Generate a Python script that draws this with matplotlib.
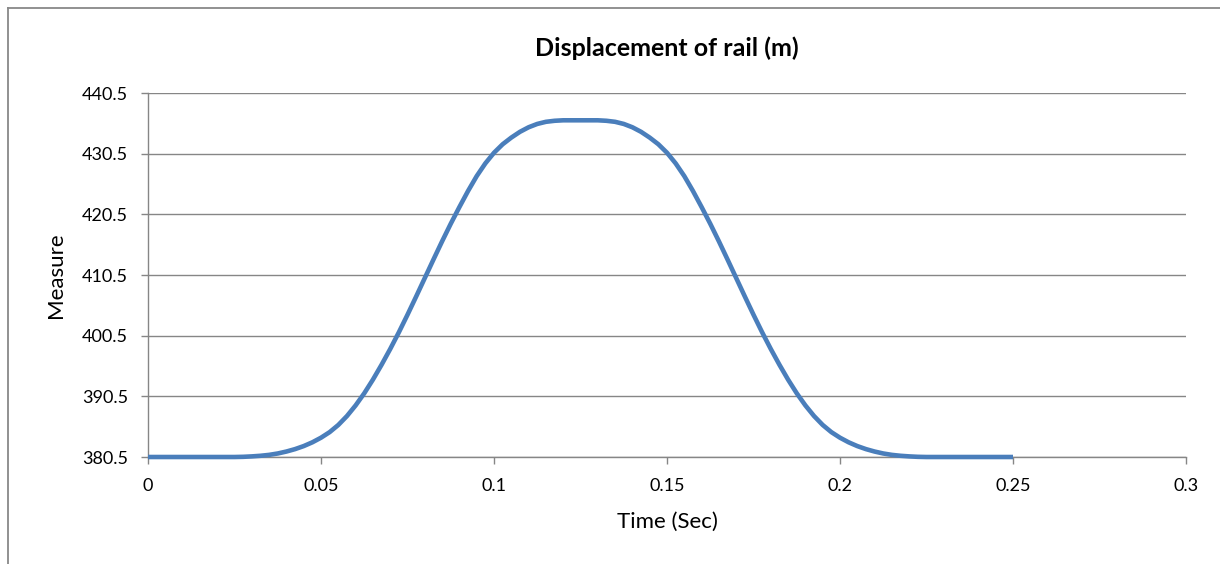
import matplotlib
matplotlib.use("Agg")
import matplotlib.pyplot as plt
from matplotlib.lines import Line2D

plt.rcParams['font.family'] = ['Lato', 'DejaVu Sans']

# time (sec) and rail displacement
time_sec = [0.0, 0.005, 0.01, 0.015, 0.02,
            0.025, 0.0275, 0.03, 0.0325, 0.035, 0.0375, 0.04, 0.0425, 0.045, 0.0475,
            0.05, 0.0525, 0.055, 0.0575, 0.06, 0.0625, 0.065, 0.0675, 0.07, 0.0725,
            0.075, 0.0775, 0.08, 0.0825, 0.085, 0.0875, 0.09, 0.0925, 0.095, 0.0975,
            0.1, 0.1025, 0.105, 0.1075, 0.11, 0.1125, 0.115, 0.1175, 0.12, 0.1225,
            0.125, 0.1275, 0.13, 0.1325, 0.135, 0.1375, 0.14, 0.1425, 0.145, 0.1475,
            0.15, 0.1525, 0.155, 0.1575, 0.16, 0.1625, 0.165, 0.1675, 0.17, 0.1725,
            0.175, 0.1775, 0.18, 0.1825, 0.185, 0.1875, 0.19, 0.1925, 0.195, 0.1975,
            0.2, 0.2025, 0.205, 0.2075, 0.21, 0.2125, 0.215, 0.2175, 0.22, 0.2225,
            0.225, 0.23, 0.235, 0.24, 0.245, 0.25]
displacement = [380.5, 380.5, 380.5, 380.5, 380.5,
                380.5, 380.53, 380.6, 380.7, 380.85, 381.08, 381.4, 381.8, 382.3, 382.92,
                383.68, 384.6, 385.78, 387.25, 389.0, 391.0, 393.25, 395.7, 398.3, 401.05,
                403.95, 406.95, 410.0, 413.05, 416.05, 418.95, 421.7, 424.35, 426.8, 428.9,
                430.65, 432.05, 433.15, 434.1, 434.85, 435.4, 435.75, 435.92, 436.0, 436.0,
                436.0, 436.0, 436.0, 435.92, 435.75, 435.4, 434.85, 434.1, 433.15, 432.05,
                430.65, 428.9, 426.8, 424.35, 421.7, 418.95, 416.05, 413.05, 410.0, 406.95,
                403.95, 401.05, 398.3, 395.7, 393.25, 391.0, 389.0, 387.25, 385.78, 384.6,
                383.68, 382.92, 382.3, 381.8, 381.4, 381.08, 380.85, 380.7, 380.6, 380.53,
                380.5, 380.5, 380.5, 380.5, 380.5, 380.5]

x_ticks = [0, 0.05, 0.1, 0.15, 0.2, 0.25, 0.3]
x_tick_labels = ['0', '0.05', '0.1', '0.15', '0.2', '0.25', '0.3']
y_ticks = [380.5, 390.5, 400.5, 410.5, 420.5, 430.5, 440.5]

GRID = '#868686'
LINE = '#4A7EBB'

W, H = 1220, 564
fig = plt.figure(figsize=(W / 100, H / 100), dpi=100)
ax = fig.add_axes([148 / W, 1 - 457 / H, 1038 / W, 364 / H])

ax.plot(time_sec, displacement, color=LINE, linewidth=3.3, solid_capstyle='butt',
        solid_joinstyle='round', zorder=3, clip_on=False)

ax.set_xlim(0, 0.3)
ax.set_ylim(380.5, 440.5)
ax.set_xticks(x_ticks)
ax.set_xticklabels(x_tick_labels)
ax.set_yticks(y_ticks)
ax.set_yticklabels([f"{v:.1f}" for v in y_ticks])

ax.grid(axis='y', color=GRID, linewidth=1.0)
ax.set_axisbelow(True)
for side in ['top', 'right']:
    ax.spines[side].set_visible(False)
for side in ['left', 'bottom']:
    ax.spines[side].set_color(GRID)
    ax.spines[side].set_linewidth(1.0)

ax.tick_params(axis='both', colors=GRID, labelcolor='black', labelsize=13,
               length=5, width=1.0, direction='out')
ax.tick_params(axis='y', pad=9.5)
ax.tick_params(axis='x', pad=10)

ax.set_title("Displacement of rail (m)", fontsize=18, fontweight='bold', pad=26.5)
ax.set_xlabel("Time (Sec)", fontsize=16, labelpad=13)
ax.set_ylabel("Measure", fontsize=16)
ax.yaxis.set_label_coords(-0.079, 0.5)

# outer chart frame (only the left and top edges show in the crop)
fig.add_artist(Line2D([8 / W, 8 / W], [0, 1 - 7.5 / H], transform=fig.transFigure,
                      color='#888888', linewidth=1.3))
fig.add_artist(Line2D([8 / W, 1], [1 - 7.5 / H, 1 - 7.5 / H], transform=fig.transFigure,
                      color='#888888', linewidth=1.3))

fig.savefig("out.png", dpi=100, facecolor='white')
